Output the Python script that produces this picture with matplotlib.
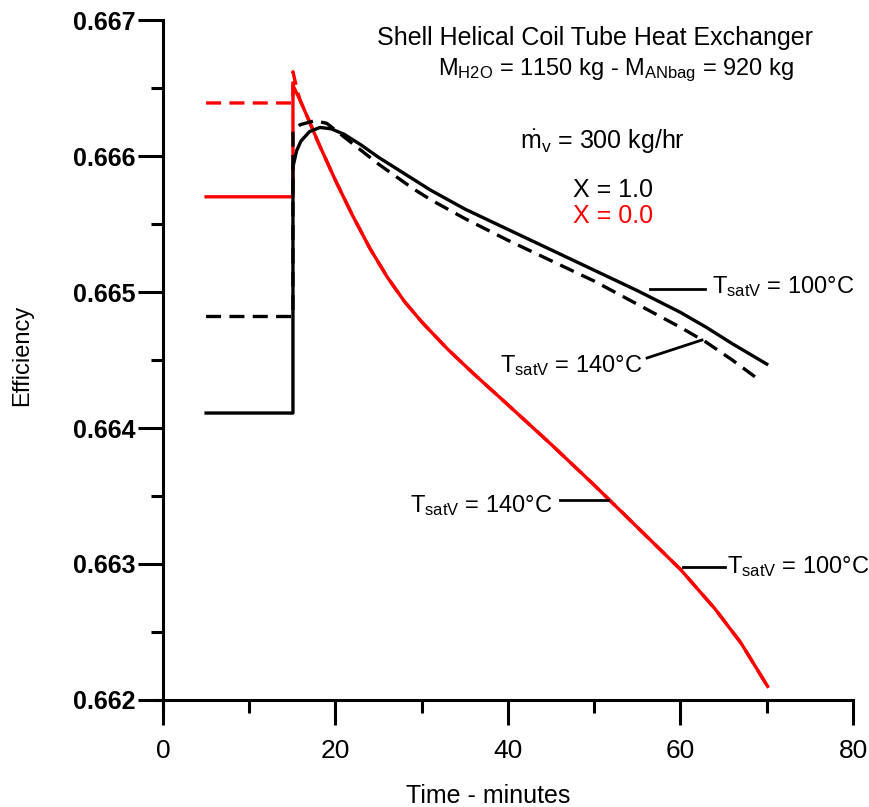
import numpy as np
import matplotlib
matplotlib.use('Agg')
import matplotlib.pyplot as plt

plt.rcParams['font.family'] = ['Liberation Sans', 'DejaVu Sans']
plt.rcParams['mathtext.fontset'] = 'custom'
plt.rcParams['mathtext.rm'] = 'Liberation Sans'
plt.rcParams['mathtext.it'] = 'Liberation Sans:italic'
plt.rcParams['mathtext.bf'] = 'Liberation Sans:bold'

# X = 1.0, TsatV = 100 C (black solid)
black100_t = [5, 15.07, 15.07, 15.5, 16, 17, 18.2, 19.5, 21, 23, 25, 27, 29,
              31, 33, 35, 38, 41, 45, 50, 55, 60, 63, 66, 70]
black100_eff = [0.66411, 0.66411, 0.66592, 0.66604, 0.66611, 0.66618, 0.66621,
                0.66620, 0.66616, 0.66608, 0.66599, 0.66591, 0.66583, 0.66575,
                0.66568, 0.66561, 0.66552, 0.66543, 0.66531, 0.66516, 0.66501,
                0.66485, 0.66474, 0.66462, 0.66447]

# X = 1.0, TsatV = 140 C (black dashed)
black140_t = [5, 15.07, 15.07, 15.9, 17.6, 19, 21, 23, 25, 27, 29, 31, 33, 35,
              40, 45, 50, 55, 60, 63, 66, 69.2]
black140_eff = [0.66482, 0.66482, 0.66618, 0.66623, 0.66626, 0.66624, 0.66614,
                0.66604, 0.66594, 0.66585, 0.66576, 0.66568, 0.66561, 0.66554,
                0.66538, 0.66523, 0.66508, 0.66491, 0.66474, 0.66463, 0.66450,
                0.66435]

# X = 0.0 start-up parts
red100_t = [5, 15.07, 15.07]
red100_eff = [0.66570, 0.66570, 0.66652]
red140_t = [5, 15.07, 15.07, 15.5]
red140_eff = [0.66639, 0.66639, 0.66662, 0.66650]

# X = 0.0 decay (both saturation temperatures nearly coincide)
red_t = [15.9, 17, 18, 19, 20, 22, 24, 26, 28, 30, 33, 36, 40, 45, 50, 55, 60,
         64, 67, 70.1]
red_eff = [0.66641, 0.66625, 0.66610, 0.66596, 0.66582, 0.66556, 0.66532,
           0.66511, 0.66493, 0.66478, 0.66458, 0.66440, 0.66417, 0.66388,
           0.66358, 0.66327, 0.66296, 0.66267, 0.66242, 0.66210]

x_ticks = [0, 20, 40, 60, 80]
y_ticks = [0.662, 0.663, 0.664, 0.665, 0.666, 0.667]

RED = '#ff0000'
LW = 2.4
DASH = (4.5, 2.5)

fig = plt.figure(figsize=(8.69, 8.07), dpi=100)
ax = fig.add_axes([0.1786, 0.1208, 0.8030, 0.8544])

ax.plot(red140_t + red_t, red140_eff + red_eff, color=RED, lw=LW, dashes=DASH)
ax.plot(red100_t + red_t, red100_eff + red_eff, color=RED, lw=LW)
ax.plot(black140_t, black140_eff, color='black', lw=LW, dashes=DASH)
ax.plot(black100_t, black100_eff, color='black', lw=LW)

ax.set_xlim(-0.9, 80)
ax.set_ylim(0.66193, 0.667)
ax.spines['left'].set_position(('data', 0))
ax.spines['bottom'].set_position(('data', 0.662))
ax.spines['top'].set_visible(False)
ax.spines['right'].set_visible(False)
for s in ('left', 'bottom'):
    ax.spines[s].set_linewidth(2.2)

ax.set_xticks(x_ticks)
ax.set_xticks([10, 30, 50, 70], minor=True)
ax.set_yticks(y_ticks)
ax.set_yticks([0.6625, 0.6635, 0.6645, 0.6655, 0.6665], minor=True)
ax.set_yticklabels(['%.3f' % v for v in y_ticks], fontsize=18, fontweight='bold')
ax.set_xticklabels([str(v) for v in x_ticks], fontsize=19)
ax.tick_params(which='major', direction='out', length=18, width=2.2)
ax.tick_params(which='minor', direction='out', length=9, width=2.2)
ax.tick_params(axis='y', which='major', pad=2)
ax.tick_params(axis='x', which='major', pad=10)

fig.text(488 / 869, 1 - 796 / 807, 'Time - minutes', fontsize=18,
         ha='center', va='center')
fig.text(22 / 869, 1 - 355 / 807, 'Efficiency', fontsize=17, rotation=90,
         ha='center', va='center')

# annotations
ax.text(50.09, 0.666816, 'Shell Helical Coil Tube Heat Exchanger',
        fontsize=18, ha='center', va='baseline')
ax.text(31.88, 0.666596,
        r'M$_{\mathrm{H2O}}$ = 1150 kg - M$_{\mathrm{ANbag}}$ = 920 kg',
        fontsize=17, ha='left', va='baseline')
ax.text(41.39, 0.666059, r'$\dot{\mathrm{m}}_{\mathrm{v}}$ = 300 kg/hr',
        fontsize=18, ha='left', va='baseline')
ax.text(47.54, 0.6656985, 'X = 1.0', fontsize=18, ha='left', va='baseline')
ax.text(47.54, 0.6655074, 'X = 0.0', fontsize=18, ha='left', va='baseline',
        color=RED)

# curve labels with leader lines
ax.plot([56.46, 62.84], [0.665022, 0.665022], color='black', lw=2)
ax.text(63.65, 0.664993, r'T$_{\mathrm{satV}}$ = 100°C', fontsize=17,
        ha='left', va='baseline')
ax.plot([56.12, 62.49], [0.664515, 0.664647], color='black', lw=2)
ax.text(39.07, 0.664412, r'T$_{\mathrm{satV}}$ = 140°C', fontsize=17,
        ha='left', va='baseline')
ax.plot([46.03, 51.59], [0.663471, 0.663471], color='black', lw=2)
ax.text(28.64, 0.663382, r'T$_{\mathrm{satV}}$ = 140°C', fontsize=17,
        ha='left', va='baseline')
ax.plot([60.29, 65.16], [0.662978, 0.662978], color='black', lw=2)
ax.text(65.39, 0.662934, r'T$_{\mathrm{satV}}$ = 100°C', fontsize=17,
        ha='left', va='baseline')

fig.savefig('out.png', dpi=100)
